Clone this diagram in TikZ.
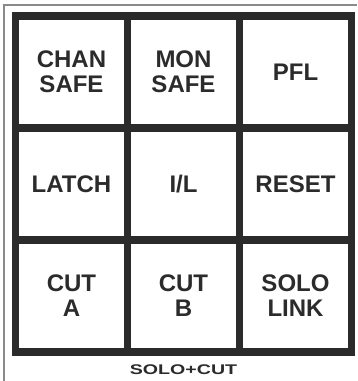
\documentclass[tikz,border=0pt]{standalone}
\usepackage{fontspec}
\setmainfont{Liberation Sans}
\usetikzlibrary{positioning}
\definecolor{keyline}{HTML}{2B2B2B}
\definecolor{frameline}{HTML}{8A8A8A}
\tikzset{
  key/.style={
    draw=keyline,
    rectangle,
    line width=7.5pt,
    minimum width=112pt,
    minimum height=112pt,
    inner sep=0pt,
    outer sep=0pt,
    align=center,
    text=keyline,
    font=\fontsize{24}{25}\selectfont\bfseries
  }
}

\begin{document}
\begin{tikzpicture}[
    x=1pt, y=-1pt,
    node distance=0pt and 0pt,
    frame/.style={draw=frameline, line width=1.6pt},
    caption/.style={font=\fontsize{14}{14}\selectfont\bfseries, text=keyline}
]
\useasboundingbox (0,0) rectangle (357,381);
\fill[white] (0,0) rectangle (357,381);
\draw[frame] (4,381) -- (4,5) -- (357,5);

\node[key] (chan) at (71.5,72) {CHAN\\SAFE};
\node[key, right=of chan] (mon)   {MON\\SAFE};
\node[key, right=of mon]  (pfl)   {PFL};
\node[key, below=of chan] (latch) {LATCH};
\node[key, right=of latch] (il)   {I/L};
\node[key, right=of il]   (reset) {RESET};
\node[key, below=of latch] (cuta) {CUT\\A};
\node[key, right=of cuta] (cutb)  {CUT\\B};
\node[key, right=of cutb] (link)  {SOLO\\LINK};

\node[caption] (solocut) at (cutb.south |- 0,370) {\scalebox{1.4}[1]{SOLO+CUT}};
\end{tikzpicture}
\end{document}
